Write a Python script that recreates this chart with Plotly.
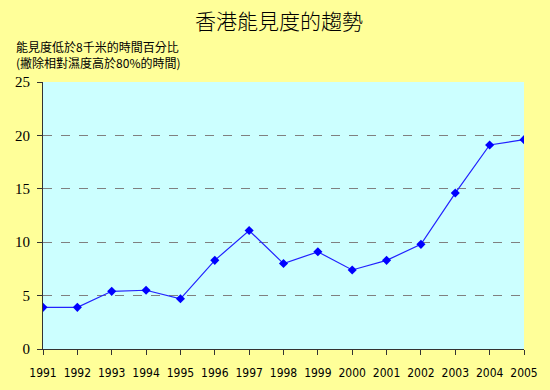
import plotly.graph_objects as go

years = [1991, 1992, 1993, 1994, 1995, 1996, 1997, 1998, 1999, 2000, 2001, 2002, 2003, 2004, 2005]
values = [3.9, 3.9, 5.4, 5.5, 4.7, 8.3, 11.1, 8.0, 9.1, 7.4, 8.3, 9.8, 14.6, 19.1, 19.6]
y_ticks = [0, 5, 10, 15, 20, 25]

title = "香港能見度的趨勢"
ytitle1 = "能見度低於8千米的時間百分比"
ytitle2 = "(撇除相對濕度高於80%的時間)"

W, H = 550, 390
ML, MR, MT, MB = 43, 26, 82, 41

fig = go.Figure()
fig.add_trace(go.Scatter(
    x=years, y=values, mode="lines+markers",
    line=dict(color="#2222FF", width=1.2),
    marker=dict(symbol="diamond", size=7, color="#0000FF"),
))

pw = W - ML - MR
ph = H - MT - MB
anns = []
for txt, ypix in [(ytitle1, 47), (ytitle2, 62)]:
    anns.append(dict(text=txt, xref="paper", yref="paper",
                     x=(14 - ML) / pw, y=(H - MB - ypix) / ph,
                     xanchor="left", yanchor="middle", showarrow=False,
                     font=dict(family="Noto Sans CJK TC", size=12, color="#000000")))

fig.update_layout(
    width=W, height=H,
    paper_bgcolor="#FFFF99", plot_bgcolor="#CCFFFF",
    margin=dict(l=ML, r=MR, t=MT, b=MB, autoexpand=False),
    showlegend=False,
    title=dict(text=title, x=279 / W, xanchor="center", y=1 - 22 / H, yanchor="middle",
               font=dict(family="Noto Sans CJK TC", size=21, color="#000000", weight=300)),
    xaxis=dict(range=[1991, 2005], tickmode="array", tickvals=years,
               ticktext=[str(y) for y in years],
               showgrid=False, zeroline=False,
               showline=True, linecolor="#333333", linewidth=1,
               ticks="outside", ticklen=5, tickcolor="#333333",
               ticklabelstandoff=8,
               tickfont=dict(family="DejaVu Sans Condensed, Liberation Sans", size=12, color="#000000")),
    yaxis=dict(range=[0, 25], tickmode="array", tickvals=y_ticks,
               showgrid=True, gridcolor="#808080", griddash="dash", gridwidth=1,
               zeroline=False,
               showline=True, linecolor="#333333", linewidth=1,
               ticks="outside", ticklen=5, tickcolor="#333333",
               ticklabelstandoff=4,
               tickfont=dict(family="Liberation Serif", size=15, color="#000000")),
    annotations=anns,
)

fig.write_html("out.html", config={"displayModeBar": False},
               post_script="document.body.style.margin='0';document.body.style.padding='0';")
